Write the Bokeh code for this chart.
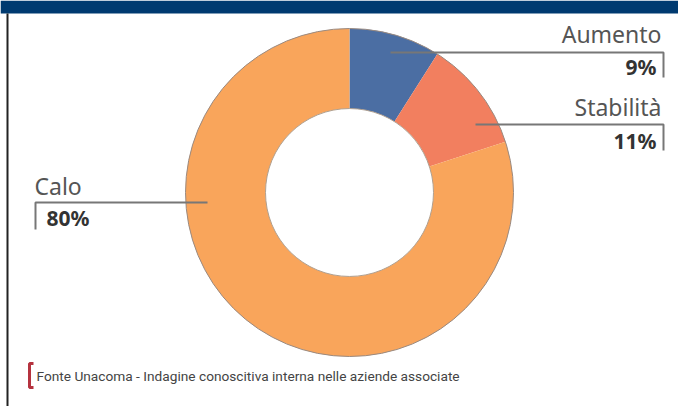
import numpy as np
from bokeh.plotting import figure
from bokeh.models import Range1d
from bokeh.core.properties import value
from bokeh.embed import file_html
from bokeh.resources import INLINE

categories = ["Aumento", "Stabilità", "Calo"]
values = [9, 11, 80]
colors = ["#4b6ea3", "#f27f5f", "#f9a55b"]
source_note = "Fonte Unacoma - Indagine conoscitiva interna nelle aziende associate"

W, H = 678, 406
p = figure(width=W, height=H, output_backend="svg", toolbar_location=None,
           x_range=Range1d(0, W), y_range=Range1d(0, H), min_border=0,
           background_fill_color="white", border_fill_color="white")
p.axis.visible = False
p.grid.visible = False
p.outline_line_color = None

def fx(X):
    return X

def fy(Y):
    return H - Y

# top band and left rule
p.quad(left=0, right=W, top=H, bottom=fy(13), fill_color="#003a70", line_color=None)
p.quad(left=6, right=8, top=fy(13), bottom=0, fill_color="#222222", line_color=None)

# donut
cx, cy = fx(349), fy(192)
r_out, r_in = 164, 84
vals = np.array(values, dtype=float)
frac = vals / vals.sum()
cum = np.concatenate([[0], np.cumsum(frac)])
start = np.pi / 2 - cum[:-1] * 2 * np.pi
end = np.pi / 2 - cum[1:] * 2 * np.pi
p.annular_wedge(x=cx, y=cy, inner_radius=r_in, outer_radius=r_out,
                start_angle=list(start), end_angle=list(end), direction="clock",
                fill_color=colors, line_color=None)
p.circle(x=cx, y=cy, radius=r_out, fill_color=None, line_color="#9a8a80", line_width=1)
p.circle(x=cx, y=cy, radius=r_in, fill_color=None, line_color="#b0a090", line_width=1)

lc = "#777777"
# leader lines
p.line(x=[fx(390), fx(663), fx(663)], y=[fy(52), fy(52), fy(77)], line_color=lc, line_width=2)
p.line(x=[fx(475), fx(663), fx(663)], y=[fy(124), fy(124), fy(150)], line_color=lc, line_width=2)
p.line(x=[fx(207), fx(35), fx(35)], y=[fy(202), fy(202), fy(229)], line_color=lc, line_width=2)

font = value("Noto Sans")
name_color = "#555555"
pct_color = "#333333"
pct = [f"{v}%" for v in values]
# Aumento
p.text(x=[fx(661)], y=[fy(33)], text=[categories[0]], text_align="right", text_baseline="alphabetic",
       text_font=font, text_font_size="23px", text_color=name_color)
p.text(x=[fx(656)], y=[fy(66)], text=[pct[0]], text_align="right", text_baseline="alphabetic",
       text_font=font, text_font_size="21px", text_font_style="bold", text_color=pct_color)
# Stabilità
p.text(x=[fx(661)], y=[fy(106)], text=[categories[1]], text_align="right", text_baseline="alphabetic",
       text_font=font, text_font_size="23px", text_color=name_color)
p.text(x=[fx(656)], y=[fy(140)], text=[pct[1]], text_align="right", text_baseline="alphabetic",
       text_font=font, text_font_size="21px", text_font_style="bold", text_color=pct_color)
# Calo
p.text(x=[fx(34)], y=[fy(185)], text=[categories[2]], text_align="left", text_baseline="alphabetic",
       text_font=font, text_font_size="23px", text_color=name_color)
p.text(x=[fx(46)], y=[fy(217)], text=[pct[2]], text_align="left", text_baseline="alphabetic",
       text_font=font, text_font_size="21px", text_font_style="bold", text_color=pct_color)

# footer
p.line(x=[fx(33), fx(29), fx(29), fx(33)], y=[fy(363), fy(363), fy(387), fy(387)],
       line_color="#b5333f", line_width=3)
p.text(x=[fx(36)], y=[fy(375)], text=[source_note], text_align="left", text_baseline="alphabetic",
       text_font=value("Roboto"), text_font_size="13.7px", text_color="#444444")

open("out.html", "w").write(file_html(p, INLINE))
